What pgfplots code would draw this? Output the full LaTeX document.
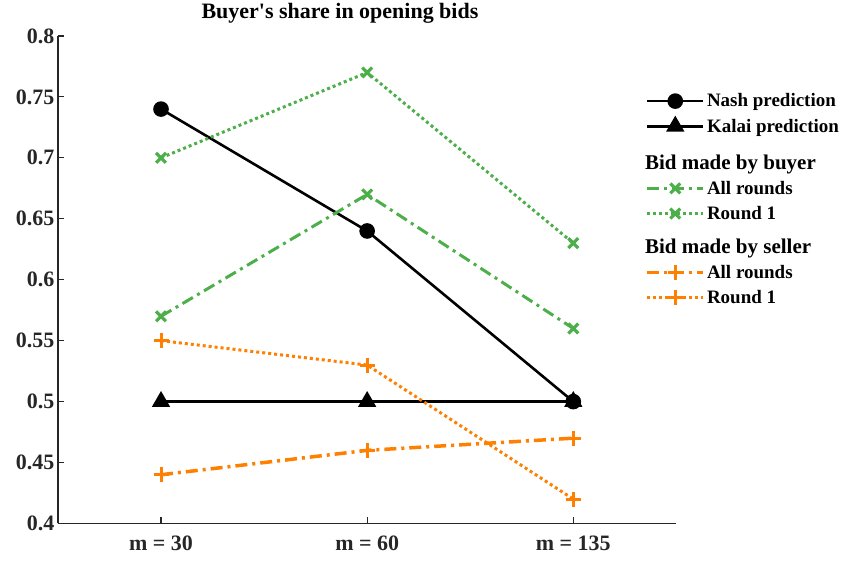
\documentclass[border=0pt]{standalone}
\usepackage{fontspec}
\setmainfont{Liberation Serif}
\usepackage{pgfplots}
\pgfplotsset{compat=1.18}

\definecolor{axgray}{RGB}{38,38,38}
\definecolor{sgreen}{RGB}{77,175,74}
\definecolor{sorange}{RGB}{255,127,0}

\begin{document}
\begin{tikzpicture}
\begin{axis}[
    scale only axis,
    width=619pt, height=488pt,
    xmin=-0.5, xmax=2.5,
    ymin=0.4, ymax=0.8,
    axis x line*=bottom, axis y line*=left,
    axis line style={-, line width=1.6pt, axgray},
    xtick={0,1,2},
    xticklabels={m = 30, m = 60, m = 135},
    ytick={0.4,0.45,0.5,0.55,0.6,0.65,0.7,0.75,0.8},
    yticklabels={0.4,0.45,0.5,0.55,0.6,0.65,0.7,0.75,0.8},
    tick align=inside,
    major tick length=6pt,
    tick style={line width=1.2pt, axgray},
    ticklabel style={font=\fontsize{22}{25}\selectfont\bfseries, text=axgray},
    xticklabel style={yshift=-9pt},
    title={Buyer\textquotesingle s share in opening bids},
    title style={font=\fontsize{22}{25}\selectfont\bfseries, at={(0.456,1)}, anchor=south, yshift=3pt},
    legend style={draw=none, fill=none, at={(0.945,0.89)}, anchor=north west,
        font=\fontsize{19}{22}\selectfont\bfseries, row sep=6.5pt},
    legend cell align=left,
    legend image code/.code={
        \draw[mark repeat=2, mark phase=2, #1] plot coordinates {(0pt,0pt) (28pt,0pt) (56pt,0pt)};
    },
]
\addplot[black, line width=2.6pt, mark=*, mark size=6.5pt]
    coordinates {(0,0.74) (1,0.64) (2,0.50)};
\addlegendentry{Nash prediction}
\addplot[black, line width=2.6pt, mark=triangle*, mark size=8pt]
    coordinates {(0,0.50) (1,0.50) (2,0.50)};
\addlegendentry{Kalai prediction}

\addlegendimage{empty legend}
\addlegendentry{\hspace{-62pt}\fontsize{21}{24}\selectfont\rule{0pt}{25pt}Bid made by buyer}
\addplot[sgreen, line width=3pt, dash pattern=on 12pt off 5pt on 3pt off 5pt,
    mark=x, mark size=7pt, mark options={solid, line width=3.2pt}]
    coordinates {(0,0.57) (1,0.67) (2,0.56)};
\addlegendentry{All rounds}
\addplot[sgreen, line width=3pt, dash pattern=on 3pt off 3pt,
    mark=x, mark size=7pt, mark options={solid, line width=3.2pt}]
    coordinates {(0,0.70) (1,0.77) (2,0.63)};
\addlegendentry{Round 1}

\addlegendimage{empty legend}
\addlegendentry{\hspace{-62pt}\fontsize{21}{24}\selectfont\rule{0pt}{22pt}Bid made by seller}
\addplot[sorange, line width=3.5pt, dash pattern=on 12pt off 5pt on 3pt off 5pt,
    mark=+, mark size=7.5pt, mark options={solid, line width=3pt}]
    coordinates {(0,0.44) (1,0.46) (2,0.47)};
\addlegendentry{All rounds}
\addplot[sorange, line width=3pt, dash pattern=on 3pt off 3pt,
    mark=+, mark size=7.5pt, mark options={solid, line width=3pt}]
    coordinates {(0,0.55) (1,0.53) (2,0.42)};
\addlegendentry{Round 1}
\end{axis}
\path (current axis.south west) ++(-58pt,-38pt) rectangle ++(844pt,561pt);
\end{tikzpicture}
\end{document}
